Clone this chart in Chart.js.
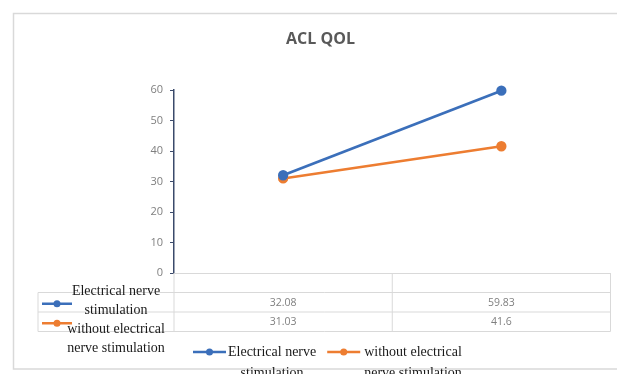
<!DOCTYPE html>
<html>
<head>
<meta charset="utf-8">
<script src="https://cdn.jsdelivr.net/npm/chart.js@4"></script>
<style>
  html, body { margin: 0; padding: 0; background: #fff; }
  canvas { display: block; }
</style>
</head>
<body>
<canvas id="chart" width="617" height="374"></canvas>
<script>
// Categories (unlabelled time points) and the two series
const categories = ['', ''];
const seriesNames = ['Electrical nerve stimulation', 'without electrical nerve stimulation'];
const electricalStim = [32.08, 59.83];
const withoutElectricalStim = [31.03, 41.6];
const seriesColors = ['#3b6fba', '#ed7d31'];
const yMin = 0, yMax = 60, yStep = 10;

const seriesValues = [electricalStim, withoutElectricalStim];

const GRID = '#d9d9d9';
const SERIF = '"Liberation Serif", "Times New Roman", serif';
const SANS = '"Open Sans", "Liberation Sans", sans-serif';

function wrapText(ctx, text, maxWidth) {
  const words = text.split(' ');
  const lines = [];
  let line = '';
  for (const w of words) {
    const test = line ? line + ' ' + w : w;
    if (line && ctx.measureText(test).width > maxWidth) {
      lines.push(line);
      line = w;
    } else {
      line = test;
    }
  }
  if (line) lines.push(line);
  return lines;
}

function drawMarker(ctx, x, y, w, color) {
  ctx.save();
  ctx.strokeStyle = color;
  ctx.fillStyle = color;
  ctx.lineWidth = 2.5;
  ctx.beginPath();
  ctx.moveTo(x, y);
  ctx.lineTo(x + w, y);
  ctx.stroke();
  ctx.beginPath();
  ctx.arc(x + w / 2, y, 3.5, 0, Math.PI * 2);
  ctx.fill();
  ctx.restore();
}

// Outer frame around the whole chart
const framePlugin = {
  id: 'frame',
  beforeDraw(chart) {
    const ctx = chart.ctx;
    ctx.save();
    ctx.strokeStyle = GRID;
    ctx.lineWidth = 1.5;
    ctx.strokeRect(13.5, 13.5, 700, 355.5);
    ctx.restore();
  }
};

// Data table under the plot plus the bottom legend
const dataTablePlugin = {
  id: 'dataTable',
  afterDraw(chart) {
    const { ctx, chartArea: a, scales: { x } } = chart;
    const step = x.getPixelForValue(1) - x.getPixelForValue(0);
    const cols = categories.map((_, i) => x.getPixelForValue(i) - step / 2);
    cols.push(x.getPixelForValue(categories.length - 1) + step / 2);
    const tableLeft = 38;
    const rowH = 19.5;
    const top = a.bottom;
    const rowTops = seriesNames.map((_, i) => top + rowH * (i + 1));
    const bottom = top + rowH * (seriesNames.length + 1);

    ctx.save();
    ctx.strokeStyle = GRID;
    ctx.lineWidth = 1;
    ctx.beginPath();
    // header row (category labels)
    ctx.moveTo(cols[0], top + 0.5); ctx.lineTo(cols[cols.length - 1], top + 0.5);
    // series rows
    rowTops.forEach(y => { ctx.moveTo(tableLeft, y); ctx.lineTo(cols[cols.length - 1], y); });
    ctx.moveTo(tableLeft, bottom); ctx.lineTo(cols[cols.length - 1], bottom);
    ctx.moveTo(tableLeft, rowTops[0]); ctx.lineTo(tableLeft, bottom);
    cols.forEach(cx => { ctx.moveTo(cx, top); ctx.lineTo(cx, bottom); });
    ctx.stroke();

    // values
    ctx.fillStyle = '#7f7f7f';
    ctx.font = '10.5px ' + SANS;
    ctx.textAlign = 'center';
    ctx.textBaseline = 'middle';
    seriesValues.forEach((vals, si) => {
      vals.forEach((v, ci) => {
        ctx.fillText(String(v), x.getPixelForValue(ci), rowTops[si] + rowH / 2 + 0.5);
      });
    });

    // series keys and names in the first column
    ctx.font = '14px ' + SERIF;
    ctx.fillStyle = '#1a1a1a';
    let textY = rowTops[0] - 1.5;
    seriesNames.forEach((name, si) => {
      drawMarker(ctx, 42, rowTops[si] + rowH / 2 + 1.5, 30, seriesColors[si]);
      wrapText(ctx, name, 100).forEach(line => {
        ctx.fillText(line, 116, textY);
        textY += 19;
      });
    });

    // bottom legend
    let lx = 193;
    const ly = 352;
    seriesNames.forEach((name, si) => {
      drawMarker(ctx, lx, ly, 33, seriesColors[si]);
      lx += 33 + (si ? 4 : 2);
      const lines = wrapText(ctx, name, 100);
      const w = Math.max(...lines.map(l => ctx.measureText(l).width));
      lines.forEach((line, li) => ctx.fillText(line, lx + w / 2, ly + li * 21));
      lx += w + 11;
    });
    ctx.restore();
  }
};

new Chart(document.getElementById('chart'), {
  type: 'line',
  data: {
    labels: categories,
    datasets: seriesNames.map((name, i) => ({
      label: name,
      data: seriesValues[i],
      borderColor: seriesColors[i],
      backgroundColor: seriesColors[i],
      borderWidth: 2.7,
      pointRadius: 3.8,
      pointHoverRadius: 3.8,
      tension: 0,
      clip: false
    }))
  },
  options: {
    responsive: false,
    animation: false,
    events: [],
    layout: { padding: { left: 28, right: 4, top: 0, bottom: 101 } },
    plugins: {
      legend: { display: false },
      tooltip: { enabled: false },
      title: {
        display: true,
        text: 'ACL QOL',
        color: '#595959',
        font: { family: SANS, size: 16, weight: 'bold' },
        padding: { top: 30, bottom: 41 }
      }
    },
    scales: {
      x: {
        display: false,
        offset: true
      },
      y: {
        min: yMin,
        max: yMax,
        afterFit(scale) { scale.width = 146; },
        ticks: {
          stepSize: yStep,
          color: '#7f7f7f',
          font: { family: SANS, size: 11 },
          padding: 7
        },
        grid: {
          drawOnChartArea: false,
          drawTicks: true,
          tickLength: 4,
          color: '#3b4a6b'
        },
        border: { color: '#3b4a6b', width: 1.5 }
      }
    }
  },
  plugins: [framePlugin, dataTablePlugin]
});
</script>
</body>
</html>
